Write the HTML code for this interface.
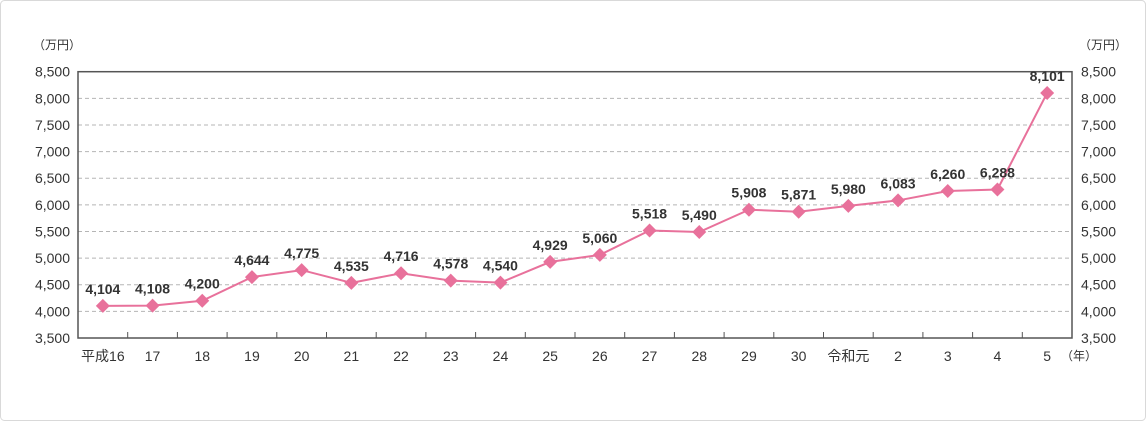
<!DOCTYPE html>
<html><head><meta charset="utf-8"><style>
html,body{margin:0;padding:0;background:#fff}
svg{display:block;font-family:"Liberation Sans","Noto Sans CJK JP",sans-serif}
</style></head><body>
<svg id="chart" width="1146" height="421" viewBox="0 0 1146 421">
<rect x="0.5" y="0.5" width="1145" height="420" rx="4" fill="#fff" stroke="#d9d9d9"/>
<g id="grid"></g><g id="axes"></g><g id="series"></g>
</svg>
<script>
const categories=["平成16","17","18","19","20","21","22","23","24","25","26","27","28","29","30","令和元","2","3","4","5"];
const values=[4104,4108,4200,4644,4775,4535,4716,4578,4540,4929,5060,5518,5490,5908,5871,5980,6083,6260,6288,8101];
const valueLabels=["4,104","4,108","4,200","4,644","4,775","4,535","4,716","4,578","4,540","4,929","5,060","5,518","5,490","5,908","5,871","5,980","6,083","6,260","6,288","8,101"];
const yTicks=[3500,4000,4500,5000,5500,6000,6500,7000,7500,8000,8500];
const yTickLabels=["3,500","4,000","4,500","5,000","5,500","6,000","6,500","7,000","7,500","8,000","8,500"];
const NS="http://www.w3.org/2000/svg";
const L=78,R=1072,T=71.7,B=338,yMin=3500,yMax=8500;
const bw=(R-L)/categories.length;
const xPos=i=>L+bw*(i+0.5);
const yPos=v=>B-(v-yMin)/(yMax-yMin)*(B-T);
function mk(tag,attrs,parent,text){const e=document.createElementNS(NS,tag);for(const k in attrs)e.setAttribute(k,attrs[k]);if(text!==undefined)e.textContent=text;parent.appendChild(e);return e;}
const grid=document.getElementById('grid'),axes=document.getElementById('axes'),series=document.getElementById('series');
yTicks.forEach((t,i)=>{
  const y=yPos(t);
  if(t>yMin&&t<yMax){const g=mk('line',{x1:L,x2:R,y1:y,y2:y,stroke:'#b5b5b5','stroke-dasharray':'4,3','stroke-width':1},grid);
  
  }
  const a=mk('text',{x:70,y:y+5,'text-anchor':'end','font-size':14,fill:'#333'},axes,yTickLabels[i]);
  
  
  const b=mk('text',{x:1081,y:y+5,'text-anchor':'start','font-size':14,fill:'#333'},axes,yTickLabels[i]);
  
  
});
const frame=mk('rect',{x:L,y:T,width:R-L,height:B-T,fill:'none',stroke:'#555','stroke-width':1.5},axes);


const u1=mk('text',{x:33,y:49,'font-size':12,fill:'#333'},axes,"（万円）");


const u2=mk('text',{x:1079,y:49,'font-size':12,fill:'#333'},axes,"（万円）");


categories.forEach((c,i)=>{
  if(i>0){const tk=mk('line',{x1:L+bw*i,x2:L+bw*i,y1:B,y2:B-6,stroke:'#555'},axes);
  
  }
  const t=mk('text',{x:xPos(i),y:361,'text-anchor':'middle','font-size':14,fill:'#333'},axes,c);
  
  
});
const yr=mk('text',{x:1061,y:360,'font-size':12,fill:'#333'},axes,"（年）");


const pts=values.map((v,i)=>xPos(i)+','+yPos(v)).join(' ');
const line=mk('polyline',{points:pts,fill:'none',stroke:'#e8719b','stroke-width':2},series);


values.forEach((v,i)=>{
  const x=xPos(i),y=yPos(v);
  const d=mk('polygon',{points:`${x},${y-7} ${x+7},${y} ${x},${y+7} ${x-7},${y}`,fill:'#e8719b'},series);
  
  
  const t=mk('text',{x:x,y:y-12,'text-anchor':'middle','font-size':14,'font-weight':'bold',fill:'#333'},series,valueLabels[i]);
  
  
});
</script>
</body></html>
